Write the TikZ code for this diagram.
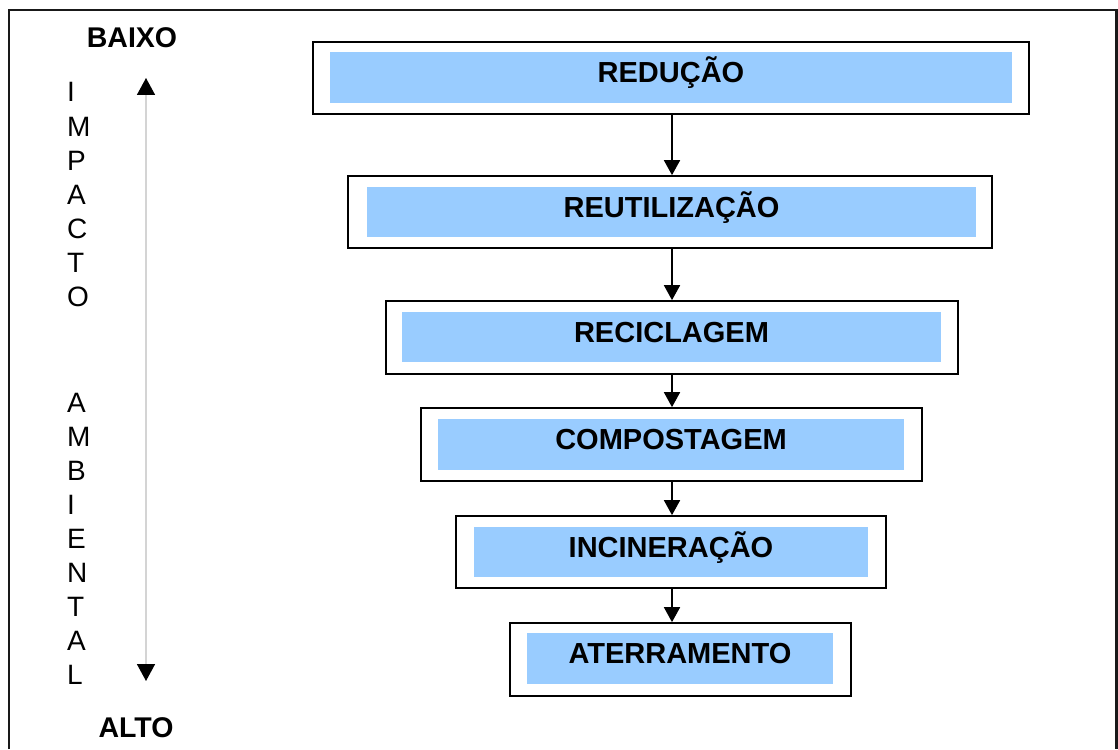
\documentclass[tikz,border=0pt]{standalone}
\usepackage{fontspec}
\setmainfont{Liberation Sans}
\usetikzlibrary{arrows.meta}
\definecolor{boxblue}{HTML}{99CCFF}
\definecolor{axisgray}{HTML}{D4D4D4}
\tikzset{
  outerbox/.style={draw=black, line width=1.7pt, fill=white, inner sep=0pt, rectangle},
  innerbox/.style={fill=boxblue, draw=none, inner sep=0pt, rectangle},
  lbl/.style={font=\fontsize{29}{34}\selectfont\bfseries, inner sep=0pt, anchor=base},
  letter/.style={font=\fontsize{28}{34}\selectfont, inner sep=0pt, anchor=base west},
  endlbl/.style={font=\fontsize{28.5}{34}\selectfont\bfseries, inner sep=0pt, anchor=base},
  flow/.style={line width=1.8pt, -{Triangle[width=16pt,length=15pt]}},
  axis/.style={draw=axisgray, line width=1.6pt,
    {Triangle[width=18pt,length=17pt,color=black]}-{Triangle[width=18pt,length=17pt,color=black]}},
  frame/.style={line width=2.2pt, draw=black!90}
}
\begin{document}
\begin{tikzpicture}[x=1pt,y=-1pt]
\useasboundingbox (0,0) rectangle (1118,749);
\draw[frame] (9,749) -- (9,10) -- (1116.5,10) -- (1116.5,749);

% boxes
\node[outerbox, minimum width=716pt, minimum height=72pt] (o1) at (671,78) {};
\node[innerbox, minimum width=682pt, minimum height=51pt] (i1) at (671,77.5) {};
\node[lbl] (t1) at ([yshift=-5pt]i1.center) {REDUÇÃO};

\node[outerbox, minimum width=644pt, minimum height=72pt] (o2) at (670,212) {};
\node[innerbox, minimum width=609pt, minimum height=50pt] (i2) at (671.5,212) {};
\node[lbl] (t2) at ([yshift=-5pt]i2.center) {REUTILIZAÇÃO};

\node[outerbox, minimum width=572pt, minimum height=73pt] (o3) at (672,337.5) {};
\node[innerbox, minimum width=539pt, minimum height=50pt] (i3) at (671.5,337) {};
\node[lbl] (t3) at ([yshift=-5pt]i3.center) {RECICLAGEM};

\node[outerbox, minimum width=501pt, minimum height=73pt] (o4) at (671.5,444.5) {};
\node[innerbox, minimum width=466pt, minimum height=51pt] (i4) at (671,444.5) {};
\node[lbl] (t4) at ([yshift=-5pt]i4.center) {COMPOSTAGEM};

\node[outerbox, minimum width=430pt, minimum height=72pt] (o5) at (671,552) {};
\node[innerbox, minimum width=394pt, minimum height=50pt] (i5) at (671,552) {};
\node[lbl] (t5) at ([yshift=-5pt]i5.center) {INCINERAÇÃO};

\node[outerbox, minimum width=341pt, minimum height=73pt] (o6) at (680.5,659.5) {};
\node[innerbox, minimum width=306pt, minimum height=51pt] (i6) at (680,658.5) {};
\node[lbl] (t6) at ([yshift=-5pt]i6.center) {ATERRAMENTO};

% connectors
\coordinate (ax) at (672,0);
\draw[flow] (o1.south -| ax) -- (o2.north -| ax);
\draw[flow] (o2.south -| ax) -- (o3.north -| ax);
\draw[flow] (o3.south -| ax) -- (o4.north -| ax);
\draw[flow] (o4.south -| ax) -- (o5.north -| ax);
\draw[flow] (o5.south -| ax) -- (o6.north -| ax);

% left axis
\node[endlbl] (baixo) at (132,48) {BAIXO};
\node[endlbl] (alto) at (136,737) {ALTO};
\coordinate (atop) at (146,78);
\coordinate (abot) at (146,681);
\draw[axis] (atop) -- (abot);

\foreach \ch [count=\k from 0] in {I,M,P,A,C,T,O}
  \node[letter] (la\k) at (67,{102+34.1*\k}) {\ch};
\foreach \ch [count=\k from 0] in {A,M,B,I,E,N,T,A,L}
  \node[letter] (lb\k) at (67,{412+34.1*\k}) {\ch};
\end{tikzpicture}
\end{document}
